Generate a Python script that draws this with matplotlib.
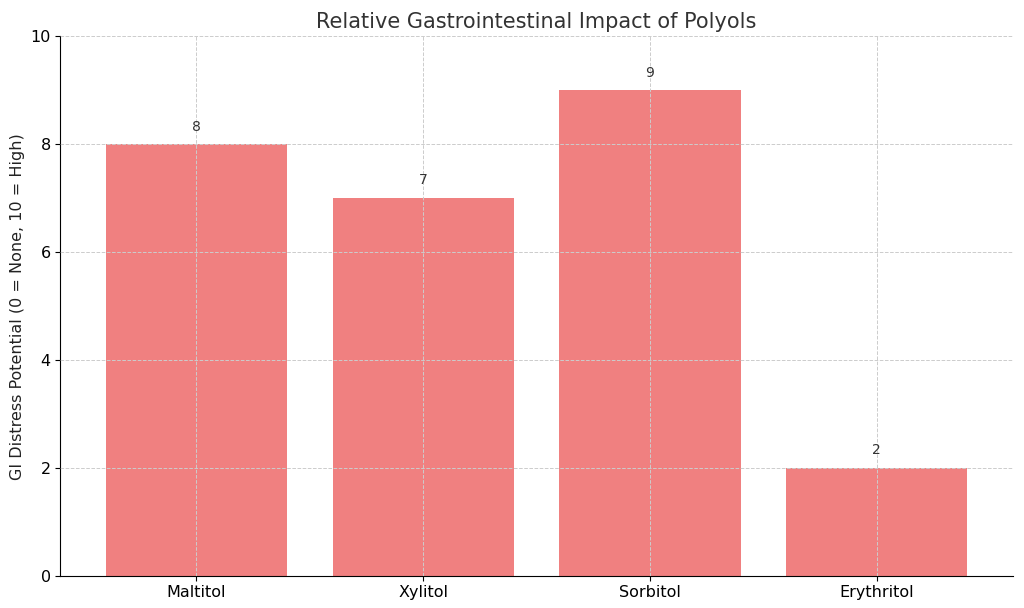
import matplotlib
matplotlib.use("Agg")
from matplotlib import pyplot as plt

polyols = ["Maltitol", "Xylitol", "Sorbitol", "Erythritol"]
gi_scores = [8, 7, 9, 2]

fig = plt.figure(figsize=(10.24, 6.08), dpi=100)
ax = fig.add_axes([0.059, 0.053, 0.93, 0.887])
bars = ax.bar(polyols, gi_scores, color="lightcoral", width=0.8)
for b, v in zip(bars, gi_scores):
    ax.text(b.get_x() + b.get_width() / 2, v + 0.2, str(v), ha="center", va="bottom",
            fontsize=10, color="#333333")

ax.set_ylim(0, 10)
ax.set_xlim(-0.6, 3.6)
ax.set_title("Relative Gastrointestinal Impact of Polyols", fontsize=15, color="#333333")
ax.set_ylabel("GI Distress Potential (0 = None, 10 = High)", fontsize=11.5, color="#222222")
ax.tick_params(axis="both", labelsize=11.5)
ax.grid(True, linestyle="--", color="#cccccc", linewidth=0.7)
ax.set_axisbelow(False)
ax.spines["top"].set_visible(False)
ax.spines["right"].set_visible(False)
fig.savefig("out.png", dpi=100)
